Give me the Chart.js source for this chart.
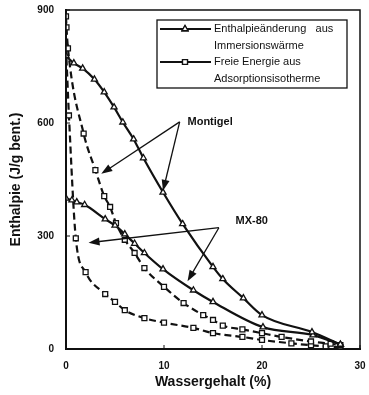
<!DOCTYPE html>
<html>
<head>
<meta charset="utf-8">
<script src="https://cdn.jsdelivr.net/npm/chart.js@4/dist/chart.umd.min.js"></script>
<style>
  html, body { margin: 0; padding: 0; background: #fff; }
  #wrap { width: 369px; height: 395px; }
</style>
</head>
<body>
<div id="wrap"><canvas id="grafico"></canvas></div>
<script>
// Montigel - Enthalpieänderung (Dreiecke, durchgezogen)
const montigelEnthX = [0, 0.8, 1.7, 2.9, 3.9, 4.9, 5.8, 6.9, 7.9, 9.9, 11.9, 15, 16, 18.1, 20, 25.1, 28];
const montigelEnthY = [778, 759, 745, 716, 682, 642, 602, 557, 507, 416, 332, 218, 186, 135, 90, 45, 12];

// MX-80 - Enthalpieänderung
const mx80EnthX = [0, 0.6, 1.1, 1.9, 4, 5, 6, 7, 8, 9.9, 13, 15, 20.1, 25.2, 28];
const mx80EnthY = [400, 395, 390, 383, 345, 328, 305, 280, 255, 212, 156, 125, 58, 37, 12];

// Montigel - Freie Energie (Quadrate, gestrichelt)
const montigelFreiX = [0, 0.05, 0.2, 1.8, 3, 3.9, 4.5, 5.1, 6, 7, 8, 10, 12, 14, 15, 16, 18, 20, 22, 25, 27, 28];
const montigelFreiY = [883, 854, 798, 572, 475, 406, 377, 334, 290, 255, 215, 165, 122, 90, 77, 62, 52, 42, 32, 20, 14, 10];

// MX-80 - Freie Energie
const mx80FreiX = [0, 0.3, 1, 2, 4, 5, 6, 8, 10, 13, 15, 18, 20, 23, 25, 26.5, 28];
const mx80FreiY = [800, 620, 294, 204, 146, 125, 103, 82, 70, 56, 42, 32, 24, 15, 10, 7, 5];

const xTicks = [0, 10, 20, 30];
const yTicks = [0, 300, 600, 900];

const legendTexte = [
    ['Enthalpieänderung   aus', 'Immersionswärme'],
    ['Freie Energie aus', 'Adsorptionsisotherme']
];

// Beschriftungen mit Pfeilen (in Datenkoordinaten)
const anmerkungen = [
    { text: 'Montigel', pos: [12.4, 602], von: [11.6, 603], ziele: [[3.6, 465], [9.9, 420]] },
    { text: 'MX-80', pos: [17.3, 340], von: [15.6, 322], ziele: [[2.3, 282], [12.4, 180]] }
];

function punkte(xs, ys) {
    return xs.map((x, i) => ({ x: x, y: ys[i] }));
}

function serie(label, xs, ys, marker, gestrichelt) {
    return {
        label: label,
        data: punkte(xs, ys),
        borderColor: '#111',
        backgroundColor: '#fff',
        borderWidth: 2.2,
        borderDash: gestrichelt ? [7, 4] : [],
        pointStyle: marker,
        pointRadius: 3.5,
        pointBorderWidth: 1.3,
        pointBorderColor: '#111',
        pointBackgroundColor: '#fff',
        cubicInterpolationMode: 'monotone',
        fill: false
    };
}

function pfeil(ctx, x1, y1, x2, y2) {
    const ang = Math.atan2(y2 - y1, x2 - x1);
    const len = 11, br = 4;
    ctx.beginPath();
    ctx.moveTo(x1, y1);
    ctx.lineTo(x2 - Math.cos(ang) * len * 0.8, y2 - Math.sin(ang) * len * 0.8);
    ctx.stroke();
    ctx.beginPath();
    ctx.moveTo(x2, y2);
    ctx.lineTo(x2 - Math.cos(ang) * len - Math.sin(ang) * br, y2 - Math.sin(ang) * len + Math.cos(ang) * br);
    ctx.lineTo(x2 - Math.cos(ang) * len + Math.sin(ang) * br, y2 - Math.sin(ang) * len - Math.cos(ang) * br);
    ctx.closePath();
    ctx.fill();
}

const extras = {
    id: 'extras',
    afterDraw(chart) {
        const ctx = chart.ctx;
        const a = chart.chartArea;
        const sx = chart.scales.x, sy = chart.scales.y;
        ctx.save();
        ctx.strokeStyle = '#111';
        ctx.fillStyle = '#111';

        // Rahmen
        ctx.lineWidth = 1.5;
        ctx.strokeRect(a.left, a.top, a.right - a.left, a.bottom - a.top);

        // Tickstriche nach innen
        ctx.lineWidth = 1;
        xTicks.forEach(v => {
            const px = sx.getPixelForValue(v);
            ctx.beginPath(); ctx.moveTo(px, a.bottom); ctx.lineTo(px, a.bottom - 4); ctx.stroke();
        });
        yTicks.forEach(v => {
            const py = sy.getPixelForValue(v);
            ctx.beginPath(); ctx.moveTo(a.left, py); ctx.lineTo(a.left + 4, py); ctx.stroke();
        });

        // Pfeile und Texte
        ctx.lineWidth = 1.3;
        anmerkungen.forEach(an => {
            const x0 = sx.getPixelForValue(an.von[0]), y0 = sy.getPixelForValue(an.von[1]);
            an.ziele.forEach(z => {
                pfeil(ctx, x0, y0, sx.getPixelForValue(z[0]), sy.getPixelForValue(z[1]));
            });
            ctx.font = 'bold 11px "Liberation Sans", Arial, sans-serif';
            ctx.textAlign = 'left';
            ctx.textBaseline = 'middle';
            ctx.fillText(an.text, sx.getPixelForValue(an.pos[0]), sy.getPixelForValue(an.pos[1]));
        });

        // Legende
        const lx = a.right - 203, ly = a.top + 10, lw = 190, lh = 68;
        ctx.fillStyle = '#fff';
        ctx.fillRect(lx, ly, lw, lh);
        ctx.lineWidth = 1.3;
        ctx.strokeRect(lx, ly, lw, lh);
        ctx.fillStyle = '#111';
        ctx.font = '11px "Liberation Sans", Arial, sans-serif';
        ctx.textAlign = 'left';
        ctx.textBaseline = 'middle';
        const reihen = [ly + 9, ly + 42];
        ['triangle', 'rect'].forEach((m, i) => {
            const y = reihen[i];
            ctx.lineWidth = 2;
            ctx.beginPath(); ctx.moveTo(lx + 3, y); ctx.lineTo(lx + 54, y); ctx.stroke();
            ctx.lineWidth = 1.3;
            ctx.fillStyle = '#fff';
            Chart.helpers.drawPoint(ctx, { pointStyle: m, radius: 3.5, borderWidth: 1.3 }, lx + 28, y);
            ctx.fill();
            ctx.stroke();
            ctx.fillStyle = '#111';
            ctx.fillText(legendTexte[i][0], lx + 57, y);
            ctx.fillText(legendTexte[i][1], lx + 57, y + 17);
        });
        ctx.restore();
    }
};

const config = {
    type: 'line',
    data: {
        datasets: [
            serie('Montigel Enthalpie', montigelEnthX, montigelEnthY, 'triangle', false),
            serie('MX-80 Enthalpie', mx80EnthX, mx80EnthY, 'triangle', false),
            serie('Montigel Freie Energie', montigelFreiX, montigelFreiY, 'rect', true),
            serie('MX-80 Freie Energie', mx80FreiX, mx80FreiY, 'rect', true)
        ]
    },
    options: {
        responsive: true,
        maintainAspectRatio: false,
        animation: false,
        layout: { padding: 0 },
        plugins: {
            legend: { display: false },
            tooltip: { enabled: false }
        },
        scales: {
            x: {
                type: 'linear',
                min: 0,
                max: 30,
                afterFit: s => { s.height = 46; s.paddingLeft = 0; s.paddingRight = 9; },
                afterBuildTicks: s => { s.ticks = xTicks.map(v => ({ value: v })); },
                grid: { display: false, drawTicks: false },
                border: { display: true, color: '#111', width: 2 },
                ticks: {
                    color: '#111',
                    padding: 11,
                    font: { family: '"Liberation Sans", Arial, sans-serif', size: 10, weight: 'bold' }
                },
                title: {
                    display: true,
                    text: 'Wassergehalt (%)',
                    color: '#111',
                    padding: { top: 0 },
                    font: { family: '"Liberation Sans", Arial, sans-serif', size: 14, weight: 'bold' }
                }
            },
            y: {
                type: 'linear',
                min: 0,
                max: 900,
                afterFit: s => { s.width = 66; s.paddingTop = 10; s.paddingBottom = 0; },
                afterBuildTicks: s => { s.ticks = yTicks.map(v => ({ value: v })); },
                grid: { display: false, drawTicks: false },
                border: { display: true, color: '#111', width: 2 },
                ticks: {
                    color: '#111',
                    padding: 12,
                    font: { family: '"Liberation Sans", Arial, sans-serif', size: 10, weight: 'bold' }
                },
                title: {
                    display: true,
                    text: 'Enthalpie (J/g bent.)',
                    color: '#111',
                    padding: { top: 8, bottom: 4 },
                    font: { family: '"Liberation Sans", Arial, sans-serif', size: 14, weight: 'bold' }
                }
            }
        }
    },
    plugins: [extras]
};

const ctx = document.getElementById('grafico').getContext('2d');
const grafico = new Chart(ctx, config);
</script>
</body>
</html>
